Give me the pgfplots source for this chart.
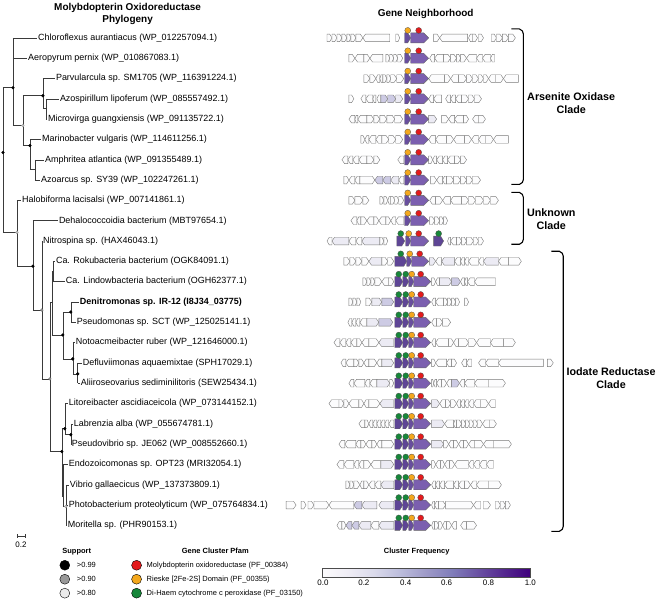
\documentclass[border=0pt]{standalone}
\usepackage{pgfplots}
\pgfplotsset{compat=1.18}
\usepackage{fontspec}
\setmainfont{Liberation Sans}
\definecolor{gw}{HTML}{FCFCFD}
\definecolor{gl}{HTML}{ECEBF4}
\definecolor{gv}{HTML}{CDCBE4}
\definecolor{gh}{HTML}{5E4595}
\definecolor{gk}{HTML}{684E9E}
\definecolor{gm}{HTML}{7B5FAF}
\definecolor{cred}{HTML}{E31A1C}
\definecolor{corg}{HTML}{F4A81D}
\definecolor{cgrn}{HTML}{17873A}
\definecolor{treec}{HTML}{3A3A3A}

\pgfplotsset{
  gene/.style={draw=black!52, line width=0.4pt, line join=miter},
  pgene/.style={draw=black!60, line width=0.4pt, line join=miter},
  tr/.style={draw=treec, line width=0.55pt},
  colormap={purp}{rgb255(0cm)=(252,251,253); rgb255(1cm)=(239,237,245); rgb255(2cm)=(218,218,235); rgb255(3cm)=(188,189,220); rgb255(4cm)=(158,154,200); rgb255(5cm)=(128,125,186); rgb255(6cm)=(106,81,163); rgb255(7cm)=(84,39,143); rgb255(8cm)=(63,0,125)}
}

\newcommand\setrow[1]{\def\ry{#1}\pgfmathsetmacro\yu{#1-3.8}\pgfmathsetmacro\yd{#1+3.8}\pgfmathsetmacro\Yu{#1-5}\pgfmathsetmacro\Yd{#1+5}}
\newcommand\G[4]{%
 \pgfmathsetmacro\gt{min(2.6,(#3-#2)*0.45)}%
 \if#1r\pgfmathsetmacro\gc{#3-\gt}%
  \edef\tmp{\noexpand\addplot[gene,fill=#4] coordinates {(#2,\yu) (\gc,\yu) (#3,\ry) (\gc,\yd) (#2,\yd)} --cycle;}%
 \else\pgfmathsetmacro\gc{#2+\gt}%
  \edef\tmp{\noexpand\addplot[gene,fill=#4] coordinates {(#3,\yu) (\gc,\yu) (#2,\ry) (\gc,\yd) (#3,\yd)} --cycle;}%
 \fi\tmp}
\def\parsegene#1/#2/#3/#4\relax{\G{#1}{#2}{#3}{#4}}
\newcommand\genes[1]{\pgfplotsforeachungrouped\gg in {#1}{\expandafter\parsegene\gg\relax}}
\newcommand\PG[4]{\pgfmathsetmacro\gc{#2-#4}%
  \edef\tmp{\noexpand\addplot[pgene,fill=#3] coordinates {(#1,\Yu) (\gc,\Yu) (#2,\ry) (\gc,\Yd) (#1,\Yd)} --cycle;}\tmp}
\newcommand\ars{\PG{406}{412}{gk}{3}\PG{412}{430}{gm}{5}}
\newcommand\std{\PG{396}{404}{gh}{3}\PG{404}{410}{gh}{3}\PG{410}{415}{gk}{2.5}\PG{415}{432}{gm}{5}}
\def\parseseg#1/#2/#3/#4\relax{\edef\tmp{\noexpand\addplot[tr] coordinates {(#1,#2) (#3,#4)};}\tmp}
\newcommand\segs[1]{\pgfplotsforeachungrouped\ss in {#1}{\expandafter\parseseg\ss\relax}}

\newcommand\lab{\fontsize{9}{10}\selectfont}
\newcommand\leg{\fontsize{7.5}{9}\selectfont}

\begin{document}
\begin{tikzpicture}
\begin{axis}[
  scale only axis, width=659pt, height=597pt,
  xmin=0, xmax=659, ymin=0, ymax=597, y dir=reverse,
  hide axis, clip=false,
  colormap name=purp, point meta min=0, point meta max=1,
]
\addplot[draw=none] coordinates {(0,0) (659,597)};

% ---------------- tree ----------------
\segs{3/85/3/230,3/85/13/85,13/35/13/123,13/35/37.5/35,13/55.4/27.5/55.4,13/123/23/123,23/93/23/143,23/93/43/93,43/75.8/43/106,43/75.8/55.5/75.8,43/106/46/106,46/96.1/46/116.5,46/96.1/59.5/96.1,46/116.5/47.5/116.5,23/143/30/143,30/136.9/30/167,30/136.9/41.5/136.9,30/167/35/167,35/157.3/35/177.6,35/157.3/44.5/157.3,35/177.6/40.5/177.6}
\segs{3/230/17/230,17/198/17/264,17/198/21.5/198,17/264/33/264,33/218.4/33/308,33/218.4/58.5/218.4,33/308/42/308,42/238.8/42/377,42/238.8/42.6/238.8,42/377/50/377,50/300/50/450,50/300/52/300,52/269/52/333,52/269/53/269,53/259.1/53/279.5,53/259.1/55.5/259.1,53/279.5/65.5/279.5,52/333/63/333,63/310/63/357,63/310/71/310,71/299.9/71/320.3,71/299.9/79.5/299.9,71/320.3/76.5/320.3,63/357/73/357,73/340.6/73/372,73/340.6/75.5/340.6,73/372/78/372,78/361/78/381.4,78/361/82.5/361,78/381.4/80.5/381.4}
\segs{50/450/62/450,62/427/62/495,62/427/65/427,65/401.8/65/433,65/401.8/68.5/401.8,65/433/71/433,71/422.1/71/442.5,71/422.1/73.5/422.1,71/442.5/71.6/442.5,62/495/63/495,63/462.9/63/505,63/462.9/68.5/462.9,63/505/66/505,66/483.3/66/524,66/483.3/69.5/483.3,66/503.6/68.5/503.6,66/524/67.5/524}
\addplot[only marks, mark=*, mark size=1.4pt, black] coordinates {(3,150) (13,85) (43,93) (30,143) (33,264) (63,333) (71,310) (73,357) (78,372) (62,450) (65,427) (71,433)};
\addplot[only marks, mark=*, mark size=1.4pt, draw=black!40, fill=black!20] coordinates {(23,123) (17,230) (66,505)};
\addplot[only marks, mark=*, mark size=1.4pt, draw=black!50, fill=black!45] coordinates {(42,308) (50,377)};

% scale bar
\addplot[tr] coordinates {(17,535) (25,535)};
\addplot[tr] coordinates {(17,533) (17,537)};
\addplot[tr] coordinates {(25,533) (25,537)};

% ---------------- gene neighborhoods ----------------
\setrow{35}\genes{r/328/333/gw,r/333/338/gw,r/338/343/gw,r/343/348/gw,r/348/352/gw,r/352/357/gw,r/357/364/gw,l/364/391/gw,r/397/401/gw,r/435/441/gw,l/441/469/gw,l/470/474/gw,r/474/479/gw,r/480/485/gw,r/493/498/gw,r/498/504/gw,r/504/510/gw,r/510/517/gw}\ars
\setrow{55.4}\genes{r/350/356/gw,l/356/365/gw,r/365/371/gw,l/371/384/gw,r/387/391/gw,r/391/395/gw,r/395/399/gw,r/399/404/gw,l/431/436/gw,l/436/445/gw,r/445/452/gw,r/452/458/gw,r/458/462/gw,r/462/468/gw,l/468/478/gw,l/478/484/gw,l/484/492/gw,l/492/496/gw}\ars
\setrow{75.8}\genes{r/365/371/gw,r/371/377/gw,l/377/381/gw,l/381/384/gw,r/384/388/gw,r/388/392/gw,r/392/398/gw,r/398/405/gw,l/430/446/gw,r/446/452/gw,l/452/460/gw,r/460/468/gw,r/468/474/gw,r/474/480/gw,r/480/485/gw,r/485/490/gw,l/490/497/gw,r/497/505/gw,l/505/520/gw}\ars
\setrow{96.1}\genes{r/350/355/gw,l/362/367/gw,l/367/374/gw,l/374/377/gw,l/378/382/gw,r/382/389/gv,r/389/397/gv,r/397/404/gl,l/430/435/gw,l/435/443/gw,l/447/452/gw,l/452/457/gw,l/457/463/gw,r/463/470/gw,r/470/476/gw,r/476/483/gw}\ars
\setrow{116.5}\genes{l/350/356/gw,l/356/359/gw,l/359/368/gw,r/368/375/gw,r/375/381/gw,r/381/388/gw,r/388/396/gw,r/396/404/gw,r/430/438/gl,r/443/450/gw,l/450/456/gw,l/456/465/gw,r/465/470/gw,l/474/480/gw,r/480/487/gw}\ars
\setrow{136.9}\genes{r/362/366/gw,l/366/370/gw,l/370/377/gw,l/377/383/gw,r/383/390/gw,r/390/397/gw,r/397/404/gw,l/430/437/gw,l/437/448/gw,r/448/455/gw,l/455/466/gw,r/466/473/gw,l/473/480/gw,l/480/487/gw,r/487/495/gw,l/495/510/gw}\ars
\setrow{157.3}\genes{l/343/349/gw,l/349/354/gw,l/354/360/gw,l/360/368/gw,r/368/375/gw,r/375/381/gw,l/399/405/gw,r/430/434/gw,l/434/438/gw,l/438/444/gw,l/444/449/gw,l/449/456/gw,r/456/462/gw,r/462/468/gw}\ars
\setrow{177.6}\genes{r/345/350/gw,l/350/356/gw,l/356/361/gw,r/361/376/gw,l/376/384/gv,l/384/392/gv,l/392/400/gl,l/400/405/gw,r/432/438/gw,l/438/444/gw,l/444/448/gw,r/448/455/gw,r/455/462/gw,r/462/468/gw,r/468/474/gw,r/474/482/gw}\ars
\setrow{198}\genes{r/350/356/gw,r/356/364/gw,r/364/370/gw,r/381/385/gw,r/385/389/gw,l/389/392/gw,r/392/396/gw,r/396/400/gw,r/400/405/gw,l/431/437/gw,r/437/444/gw,l/444/452/gw,l/452/463/gw,r/463/470/gw,r/470/477/gw,r/477/485/gw,r/485/492/gw,r/492/500/gw}\ars
\setrow{218.4}\genes{l/352/358/gw,l/358/362/gw,r/362/368/gw,l/368/375/gw,r/375/380/gw,l/380/387/gw,r/387/392/gw,l/392/397/gw,l/397/405/gw,r/431/436/gw,r/436/441/gw,r/441/445/gw,r/445/449/gw}\ars
\setrow{238.8}\genes{l/328/333/gw,l/333/350/gl,l/350/357/gw,l/357/363/gw,l/363/381/gl,r/381/385/gw,r/385/389/gw,l/449/452/gw,l/452/458/gw,r/458/463/gw,r/463/468/gw,r/468/475/gw,r/475/480/gw,r/480/485/gw}\PG{398}{406}{gh}{3}\PG{407}{412}{gk}{2.5}\PG{412}{430}{gm}{5}\PG{435}{445}{gh}{3}
\setrow{259.1}\genes{r/345/351/gw,r/351/357/gw,r/357/363/gw,r/363/370/gw,l/370/383/gl,r/383/389/gw,r/389/395/gw,r/431/437/gl,l/437/443/gw,l/443/456/gl,l/456/462/gw,l/462/466/gw,l/466/470/gw,l/470/480/gw,l/480/485/gw,l/485/500/gl,l/500/510/gw,r/510/523/gw}\PG{396}{408}{gh}{3}\PG{408}{413}{gk}{2.5}\PG{413}{430}{gm}{5}
\setrow{279.5}\genes{r/364/368/gw,r/368/372/gw,r/372/376/gw,r/376/383/gw,l/383/390/gw,r/390/395/gw,r/433/437/gw,l/437/441/gw,r/441/453/gl,r/453/462/gv,l/462/466/gw,l/466/469/gw,l/469/476/gw,l/476/497/gw}\std
\setrow{299.9}\genes{r/350/354/gw,r/354/358/gw,r/358/362/gw,r/367/373/gw,r/373/383/gl,r/383/395/gv,l/433/437/gw,l/437/445/gw,r/445/449/gw,r/449/453/gw,r/453/457/gw,r/457/461/gw,r/466/470/gw}\std
\setrow{320.3}\genes{l/349/353/gw,l/353/357/gw,l/357/361/gw,l/361/368/gw,r/368/380/gl,r/380/394/gv,l/433/438/gw,r/438/444/gw,r/444/452/gw}\std
\setrow{340.6}\genes{l/335/341/gw,l/341/347/gw,l/347/352/gw,l/352/358/gw,r/358/363/gw,l/363/370/gw,r/370/380/gw,l/380/395/gl,l/433/437/gw,l/437/450/gw,r/450/455/gw,l/455/460/gw,r/460/470/gw,r/470/478/gw,l/478/492/gw,l/492/505/gw,r/505/517/gw}\std
\setrow{361}\genes{l/342/347/gw,l/347/355/gw,r/355/360/gw,r/360/365/gw,l/365/370/gw,r/370/378/gw,l/378/383/gw,r/383/395/gl,r/433/437/gw,l/437/448/gw,l/448/453/gw,r/453/458/gw,l/463/468/gw,l/468/473/gw,l/480/487/gw,l/487/500/gw,l/500/545/gw,r/549/555/gw}\std
\setrow{381.4}\genes{l/350/355/gw,l/355/366/gw,l/366/371/gw,l/371/378/gw,r/378/391/gl,r/391/395/gw,r/433/435/gw,l/435/438/gw,l/438/443/gw,r/443/448/gw,l/448/453/gw,r/453/461/gv,l/461/466/gw,l/466/476/gw,l/476/490/gw,r/490/507/gw}\std
\setrow{401.8}\genes{l/330/340/gw,r/340/345/gw,r/345/350/gw,l/350/360/gw,r/360/365/gw,l/365/370/gw,r/370/381/gw,l/381/395/gl,r/433/441/gl,l/441/447/gw,r/447/452/gw,r/452/458/gw,l/458/462/gw,l/462/466/gw,l/466/470/gw,l/470/475/gw,l/475/482/gw,r/482/490/gw,l/490/497/gw}\std
\setrow{422.1}\genes{l/360/366/gw,r/366/370/gw,l/370/374/gw,l/374/378/gw,l/378/382/gw,l/382/386/gw,l/386/390/gw,l/390/395/gw,r/433/446/gl,l/446/455/gw,l/455/458/gw,r/458/463/gw,r/463/467/gw,r/467/471/gw,r/471/475/gw,r/475/479/gw,r/479/484/gw,l/484/491/gw,r/491/498/gw}\std
\setrow{442.5}\genes{l/340/346/gw,l/346/357/gw,l/357/362/gw,r/362/367/gw,l/367/373/gw,r/373/378/gw,l/378/383/gw,r/383/395/gw,r/433/445/gl,r/445/450/gw,l/450/455/gw,r/455/460/gw,l/460/465/gw,r/465/470/gw,l/470/476/gw,r/476/485/gw,l/485/495/gw,r/495/513/gw}\std
\setrow{462.9}\genes{l/338/345/gw,l/345/355/gw,l/355/360/gw,l/360/365/gw,r/365/372/gw,l/372/382/gw,r/382/395/gl,r/433/437/gw,l/437/442/gw,r/442/446/gw,l/446/451/gw,r/451/456/gw,l/456/470/gw,l/470/475/gw,l/475/481/gw,l/481/488/gw,l/488/495/gw}\std
\setrow{483.3}\genes{r/347/351/gw,r/351/355/gw,r/355/361/gw,l/361/365/gw,r/365/370/gw,l/370/376/gw,l/376/382/gw,l/382/395/gl,l/433/437/gw,l/437/441/gw,l/441/446/gw,l/446/455/gw,l/455/460/gw,l/460/466/gw,r/466/472/gw,l/472/478/gw,l/478/490/gw,r/490/503/gw}\std
\setrow{503.6}\genes{r/287/297/gw,r/302/307/gw,r/309/315/gw,r/315/330/gw,l/330/355/gw,l/355/363/gv,l/363/378/gl,l/380/395/gl,l/433/436/gw,l/436/440/gw,r/440/447/gw,r/447/475/gw,l/475/482/gw,r/485/492/gw,r/497/502/gw,r/502/507/gw,r/507/512/gw}\std
\setrow{524}\genes{l/338/343/gw,r/343/347/gw,l/347/353/gv,l/353/360/gv,l/360/372/gl,l/372/380/gw,l/380/395/gl,l/433/436/gw,r/436/440/gw,r/440/444/gw,l/444/448/gw,r/448/453/gw,l/453/458/gw,l/462/468/gw,r/468/478/gw}\std

% domain circles
\addplot[only marks, mark=*, mark size=3pt, mark options={draw=black!70, line width=0.3pt, fill=corg}] coordinates {(409,27.5) (409,47.9) (409,68.3) (409,88.6) (409,109) (409,129.4) (409,149.8) (409,170.1) (409,190.5) (409,210.9) (410,231.3) (411,251.6) (413,272) (413,292.4) (413,312.8) (413,333.1) (413,353.5) (413,373.9) (413,394.3) (413,414.6) (413,435) (413,455.4) (413,475.8) (413,496.1) (413,516.5)};
\addplot[only marks, mark=*, mark size=3pt, mark options={draw=black!70, line width=0.3pt, fill=cred}] coordinates {(420,27.5) (420,47.9) (420,68.3) (420,88.6) (420,109) (420,129.4) (420,149.8) (420,170.1) (420,190.5) (420,210.9) (420,231.3) (421,251.6) (422,272) (422,292.4) (422,312.8) (422,333.1) (422,353.5) (422,373.9) (422,394.3) (422,414.6) (422,435) (422,455.4) (422,475.8) (422,496.1) (422,516.5)};
\addplot[only marks, mark=*, mark size=3pt, mark options={draw=black!70, line width=0.3pt, fill=cgrn}] coordinates {(402,231.3) (440,231.3) (402,251.6) (400,272) (407,272) (400,292.4) (407,292.4) (400,312.8) (407,312.8) (400,333.1) (407,333.1) (400,353.5) (407,353.5) (400,373.9) (407,373.9) (400,394.3) (407,394.3) (400,414.6) (407,414.6) (400,435) (407,435) (400,455.4) (407,455.4) (400,475.8) (407,475.8) (400,496.1) (407,496.1) (400,516.5) (407,516.5)};

% ---------------- brackets ----------------
\addplot[black, line width=1.1pt] coordinates {(513,26) (521,26) (524,28) (525,31) (525,177) (524,180) (521,182) (513,182)};
\addplot[black, line width=1.1pt] coordinates {(513,190) (521,190) (524,192) (525,195) (525,237) (524,240) (521,242) (513,242)};
\addplot[black, line width=1.1pt] coordinates {(553,249) (561,249) (564,251) (565,254) (565,525) (564,528) (561,530) (553,530)};

% ---------------- legends ----------------
\addplot[only marks, mark=*, mark size=5pt, mark options={draw=black, line width=0.4pt, fill=black}] coordinates {(65,564)};
\addplot[only marks, mark=*, mark size=5pt, mark options={draw=black, line width=0.4pt, fill=black!40}] coordinates {(65,578)};
\addplot[only marks, mark=*, mark size=5pt, mark options={draw=black, line width=0.4pt, fill=black!8}] coordinates {(65,592)};
\addplot[only marks, mark=*, mark size=5pt, mark options={draw=black, line width=0.4pt, fill=cred}] coordinates {(137,564)};
\addplot[only marks, mark=*, mark size=5pt, mark options={draw=black, line width=0.4pt, fill=corg}] coordinates {(137,578)};
\addplot[only marks, mark=*, mark size=5pt, mark options={draw=black, line width=0.4pt, fill=cgrn}] coordinates {(137,592)};

% colour bar
\addplot[surf, shader=interp, point meta=explicit, mesh/rows=2] coordinates {(323,567) [0] (532,567) [1] (323,576) [0] (532,576) [1]};
\addplot[black!70, line width=0.5pt] coordinates {(323,567) (532,567) (532,576) (323,576)} --cycle;

% ---------------- texts ----------------
\node[font=\bfseries\fontsize{10}{12}\selectfont, align=center] at (axis cs:128,11) {Molybdopterin Oxidoreductase\\Phylogeny};
\node[font=\bfseries\fontsize{10}{12}\selectfont] at (axis cs:427,11) {Gene Neighborhood};

\begin{scope}[every node/.style={anchor=west, inner sep=0pt, font=\lab}]
\node at (axis cs:38,35) {Chloroflexus aurantiacus (WP\_012257094.1)};
\node at (axis cs:28,55.4) {Aeropyrum pernix (WP\_010867083.1)};
\node at (axis cs:56,75.8) {Parvularcula sp. SM1705 (WP\_116391224.1)};
\node at (axis cs:60,96.1) {Azospirillum lipoferum (WP\_085557492.1)};
\node at (axis cs:48,116.5) {Microvirga guangxiensis (WP\_091135722.1)};
\node at (axis cs:42,136.9) {Marinobacter vulgaris (WP\_114611256.1)};
\node at (axis cs:45,157.3) {Amphritea atlantica (WP\_091355489.1)};
\node at (axis cs:41,177.6) {Azoarcus sp. SY39 (WP\_102247261.1)};
\node at (axis cs:22,198) {Halobiforma lacisalsi (WP\_007141861.1)};
\node at (axis cs:59,218.4) {Dehalococcoidia bacterium (MBT97654.1)};
\node at (axis cs:43,238.8) {Nitrospina sp. (HAX46043.1)};
\node at (axis cs:56,259.1) {Ca. Rokubacteria bacterium (OGK84091.1)};
\node at (axis cs:66,279.5) {Ca. Lindowbacteria bacterium (OGH62377.1)};
\node at (axis cs:80,299.9) {\bfseries Denitromonas sp. IR-12 (I8J34\_03775)};
\node at (axis cs:77,320.3) {Pseudomonas sp. SCT (WP\_125025141.1)};
\node at (axis cs:76,340.6) {Notoacmeibacter ruber (WP\_121646000.1)};
\node at (axis cs:83,361) {Defluviimonas aquaemixtae (SPH17029.1)};
\node at (axis cs:81,381.4) {Aliiroseovarius sediminilitoris (SEW25434.1)};
\node at (axis cs:69,401.8) {Litoreibacter ascidiaceicola (WP\_073144152.1)};
\node at (axis cs:74,422.1) {Labrenzia alba (WP\_055674781.1)};
\node at (axis cs:72,442.5) {Pseudovibrio sp. JE062 (WP\_008552660.1)};
\node at (axis cs:69,462.9) {Endozoicomonas sp. OPT23 (MRI32054.1)};
\node at (axis cs:70,483.3) {Vibrio gallaecicus (WP\_137373809.1)};
\node at (axis cs:69,503.6) {Photobacterium proteolyticum (WP\_075764834.1)};
\node at (axis cs:68,524) {Moritella sp. (PHR90153.1)};
\end{scope}

\node[font=\bfseries\fontsize{10.8}{13}\selectfont, align=center] at (axis cs:573,100.5) {Arsenite Oxidase\\Clade};
\node[font=\bfseries\fontsize{10.8}{13}\selectfont, align=center] at (axis cs:553,216.5) {Unknown\\Clade};
\node[font=\bfseries\fontsize{10.8}{13}\selectfont, align=center] at (axis cs:613,376) {Iodate Reductase\\Clade};

\node[font=\fontsize{8}{9}\selectfont] at (axis cs:21,543) {0.2};
\node[font=\bfseries\leg] at (axis cs:77,550) {Support};
\node[font=\bfseries\leg] at (axis cs:216,550) {Gene Cluster Pfam};
\node[font=\bfseries\leg] at (axis cs:418,550) {Cluster Frequency};
\begin{scope}[every node/.style={anchor=west, inner sep=0pt, font=\leg}]
\node at (axis cs:77,564) {>0.99};
\node at (axis cs:77,578) {>0.90};
\node at (axis cs:77,592) {>0.80};
\node at (axis cs:147,564) {Molybdopterin oxidoreductase (PF\_00384)};
\node at (axis cs:147,578) {Rieske [2Fe-2S] Domain (PF\_00355)};
\node at (axis cs:147,592) {Di-Haem cytochrome c peroxidase (PF\_03150)};
\end{scope}
\begin{scope}[every node/.style={inner sep=0pt, font=\fontsize{8}{9}\selectfont}]
\node at (axis cs:324,582) {0.0};
\node at (axis cs:365,582) {0.2};
\node at (axis cs:407,582) {0.4};
\node at (axis cs:448,582) {0.6};
\node at (axis cs:490,582) {0.8};
\node at (axis cs:532,582) {1.0};
\end{scope}
\end{axis}
\end{tikzpicture}
\end{document}
